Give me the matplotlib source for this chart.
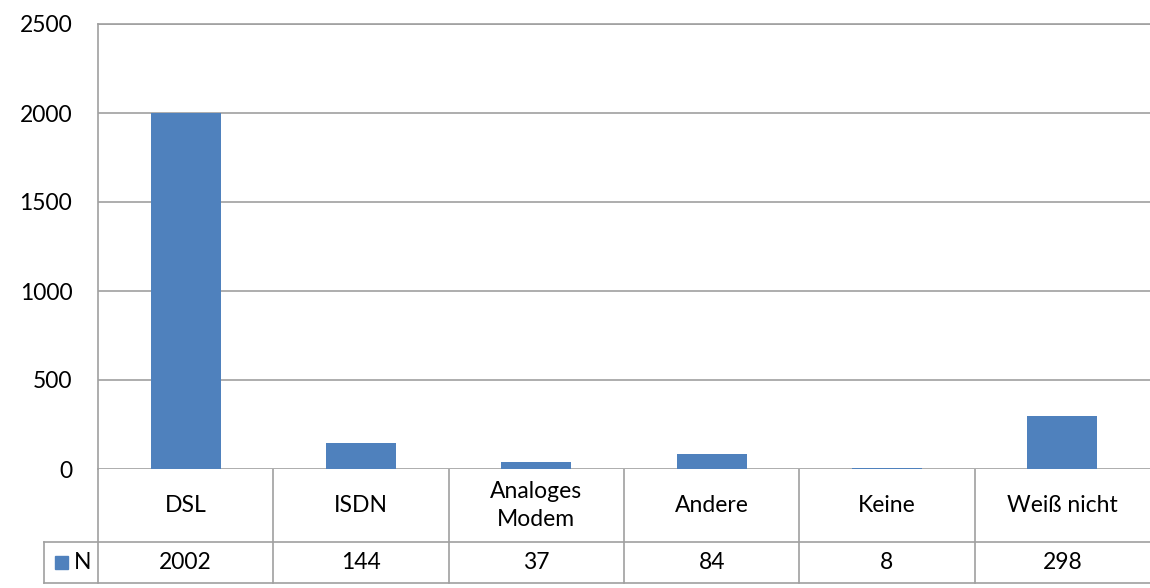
import matplotlib
matplotlib.use('agg')
from matplotlib import pyplot as plt
from matplotlib.lines import Line2D
from matplotlib.patches import Rectangle
from matplotlib.transforms import blended_transform_factory

plt.rcParams["font.family"] = ["Lato", "DejaVu Sans"]

categories = ['DSL', 'ISDN', 'Analoges\nModem', 'Andere', 'Keine', 'Weiß nicht']
values = [2002, 144, 37, 84, 8, 298]
series_name = 'N'
yticks = [0, 500, 1000, 1500, 2000, 2500]

bar_color = '#4F81BD'
line_color = '#A0A0A0'
fs = 16.5

fig = plt.figure(figsize=(11.5, 5.88), dpi=100)
ax = fig.add_axes([98/1150, 1 - 469/588, 1 - 98/1150, (469 - 24)/588])

x = list(range(len(categories)))
ax.bar(x, values, width=0.4, color=bar_color, zorder=3)
ax.set_xlim(-0.5, len(categories) - 0.5)
ax.set_ylim(0, 2500)
ax.set_yticks(yticks)
ax.set_yticklabels([str(t) for t in yticks], fontsize=fs)
ax.tick_params(axis='y', length=0, pad=18.5)
ax.set_xticks([])
ax.yaxis.grid(True, color=line_color, lw=1.2, zorder=0)
for s in ['right', 'bottom']:
    ax.spines[s].set_visible(False)
for s in ['left', 'top']:
    ax.spines[s].set_color(line_color)
    ax.spines[s].set_linewidth(1.2)

# data table below the axis
tr = blended_transform_factory(ax.transData, fig.transFigure)
y_top = 1 - 469/588
y_mid = 1 - 542/588
y_bot = 1 - 583/588
x_left = -0.5 - (98 - 44) / (1052 / 6)
kw = dict(color=line_color, lw=1.2, transform=tr, clip_on=False, zorder=-1)
fig.add_artist(Line2D([x_left, 5.5], [y_mid, y_mid], **kw))
fig.add_artist(Line2D([x_left, 5.5], [y_bot, y_bot], **kw))
fig.add_artist(Line2D([x_left, x_left], [y_mid, y_bot], **kw))
for b in range(len(categories)):
    fig.add_artist(Line2D([b - 0.5, b - 0.5], [y_top, y_bot], **kw))

for i, (c, v) in enumerate(zip(categories, values)):
    fig.text(i, (y_top + y_mid) / 2, c, transform=tr, ha='center', va='center',
             fontsize=fs, linespacing=1.4)
    fig.text(i, (y_mid + y_bot) / 2, str(v), transform=tr, ha='center', va='center',
             fontsize=fs)

fig.add_artist(Rectangle((55/1150, 1 - 569/588), 13/1150, 13/588,
                         color=bar_color, transform=fig.transFigure))
fig.text(74/1150, (y_mid + y_bot) / 2, series_name, ha='left', va='center', fontsize=fs)

plt.savefig('out.png', dpi=100)
plt.close()
